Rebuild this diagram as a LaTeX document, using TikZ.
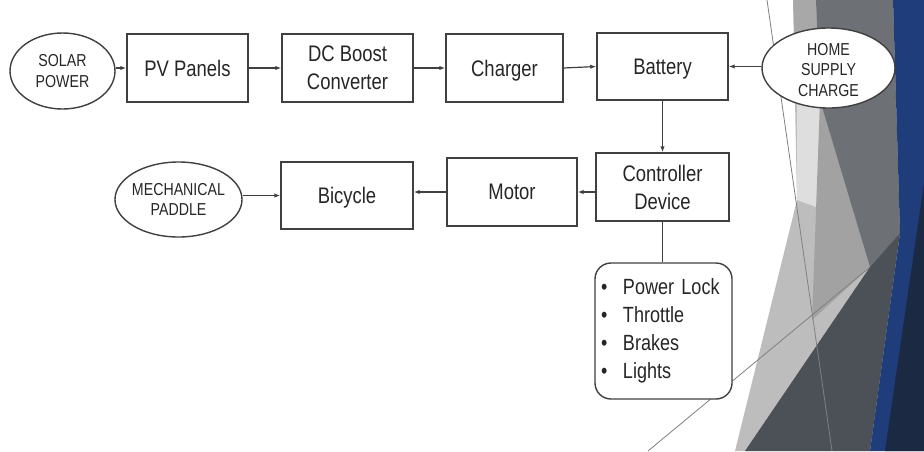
\documentclass[tikz,border=0pt]{standalone}
\usepackage{fontspec}
\setmainfont{Liberation Sans}[FakeStretch=0.82]
\usetikzlibrary{arrows.meta,shapes.geometric,calc}

\definecolor{linegray}{HTML}{404040}
\definecolor{textgray}{HTML}{262626}
\definecolor{facetSilver}{HTML}{BDBDBD}
\definecolor{facetMist}{HTML}{DEDEDE}
\definecolor{facetPewter}{HTML}{A2A2A2}
\definecolor{facetAsh}{HTML}{A8A8A8}
\definecolor{facetGraphite}{HTML}{6D7175}
\definecolor{facetCharcoal}{HTML}{4B5157}
\definecolor{facetNavy}{HTML}{1F3D7B}
\definecolor{facetDeep}{HTML}{1B2942}
\definecolor{facetLine}{HTML}{808080}

\newcommand{\featureitem}[1]{\makebox[22pt][l]{\textbullet}#1}

\tikzset{
    block_box/.style={draw=linegray, line width=1.4pt, fill=white, text=textgray,
        minimum width=#1, minimum height=68pt, align=center, inner sep=0pt,
        font=\fontsize{22.5}{28}\selectfont},
    block_box/.default=130pt,
    source_ellipse/.style={ellipse, draw=linegray, line width=1.4pt, fill=white, inner sep=0pt},
    ellipse_text/.style={align=center, text=textgray, inner sep=0pt,
        font=\fontsize{17.3}{20.5}\selectfont},
    list_box/.style={draw=linegray, line width=1.4pt, rounded corners=16pt, fill=white,
        text=textgray, minimum width=135pt, minimum height=136pt, text width=125pt,
        align=left, inner xsep=6pt, inner ysep=0pt, font=\fontsize{22}{28}\selectfont},
    flow_arrow/.style={draw=linegray, line width=1.2pt, -{Latex[length=6pt,width=4.5pt]}},
    flow_line/.style={draw=linegray, line width=1.2pt},
    facet_edge/.style={draw=facetLine, line width=0.8pt},
}

\begin{document}
\begin{tikzpicture}[x=1pt, y=-1pt]
    % page and backdrop facets
    \fill[white] (0,0) rectangle (924,451);
    \useasboundingbox (0,0) rectangle (924,451);
    \fill[facetSilver] (793,0) -- (893,0) -- (900,233) -- (870,451) -- (735,451) -- (760,350) -- (797,200) -- cycle;
    \fill[facetMist] (797,95) -- (820,100) -- (838,215) -- (797,200) -- cycle;
    \fill[facetPewter] (820,100) -- (870,267) -- (812,320) -- cycle;
    \fill[facetAsh] (793,0) -- (816,0) -- (820,100) -- (797,95) -- cycle;
    \fill[facetGraphite] (816,0) -- (893,0) -- (900,233) -- (870,267) -- (820,100) -- cycle;
    \fill[facetCharcoal] (870,267) -- (900,233) -- (870,451) -- (745,451) -- cycle;
    \fill[facetNavy] (893,0) -- (924,0) -- (924,451) -- (870,451) -- (900,233) -- cycle;
    \fill[facetDeep] (924,183) -- (924,451) -- (885,451) -- cycle;
    \draw[facet_edge] (767,0) -- (832,451);
    \draw[facet_edge] (648,451) -- (870,267);

    % top row: charging path
    \node[source_ellipse, minimum width=105pt, minimum height=76pt] (solar) at (62.5,71) {};
    \node[ellipse_text] (solar_text) at (solar) {SOLAR\\POWER};
    \node[block_box=121pt] (pv) at (187.5,68) {PV Panels};
    \node[block_box=131pt] (boost) at (347.5,68) {DC Boost\\Converter};
    \node[block_box=117pt, text depth=0pt] (charger) at (504.5,68) {Charger};
    \node[block_box=131pt, minimum height=67pt, text depth=0pt] (battery) at (662.5,66.5) {Battery};
    \node[source_ellipse, minimum width=133pt, minimum height=80pt] (home) at (828.5,68) {};
    \node[ellipse_text] (home_text) at (828.5,70) {HOME\\SUPPLY\\CHARGE};

    % second row: drive path
    \node[block_box=133pt] (controller) at (662.5,187) {Controller\\Device};
    \node[block_box=130pt] (motor) at (512,192) {Motor};
    \node[block_box=132pt, minimum height=67pt, text depth=0pt] (bicycle) at (347,195.5) {Bicycle};
    \node[source_ellipse, minimum width=127pt, minimum height=75pt] (mech) at (178.5,199.5) {};
    \node[ellipse_text] (mech_text) at (mech) {MECHANICAL\\PADDLE};

    % controller inputs
    \node[list_box] (features) at (663.5,331) {\featureitem{Power Lock}\\\featureitem{Throttle}\\\featureitem{Brakes}\\\featureitem{Lights}};

    % connectors
    \draw[flow_arrow] (solar.east |- pv.west) -- (pv.west);
    \draw[flow_arrow] (pv.east) -- (boost.west);
    \draw[flow_arrow] (boost.east) -- (charger.west);
    \draw[flow_arrow] (charger.east) -- (battery.west);
    \draw[flow_arrow] (home.west |- battery.east) -- (battery.east);
    \draw[flow_arrow] (battery.south) -- (controller.north);
    \draw[flow_arrow] (controller.west |- motor.east) -- (motor.east);
    \draw[flow_arrow] (motor.west) -- (bicycle.east |- motor.west);
    \draw[flow_arrow] (mech.east |- bicycle.west) -- (bicycle.west);
    \draw[flow_line] (controller.south) -- (controller.south |- features.north);
\end{tikzpicture}
\end{document}
